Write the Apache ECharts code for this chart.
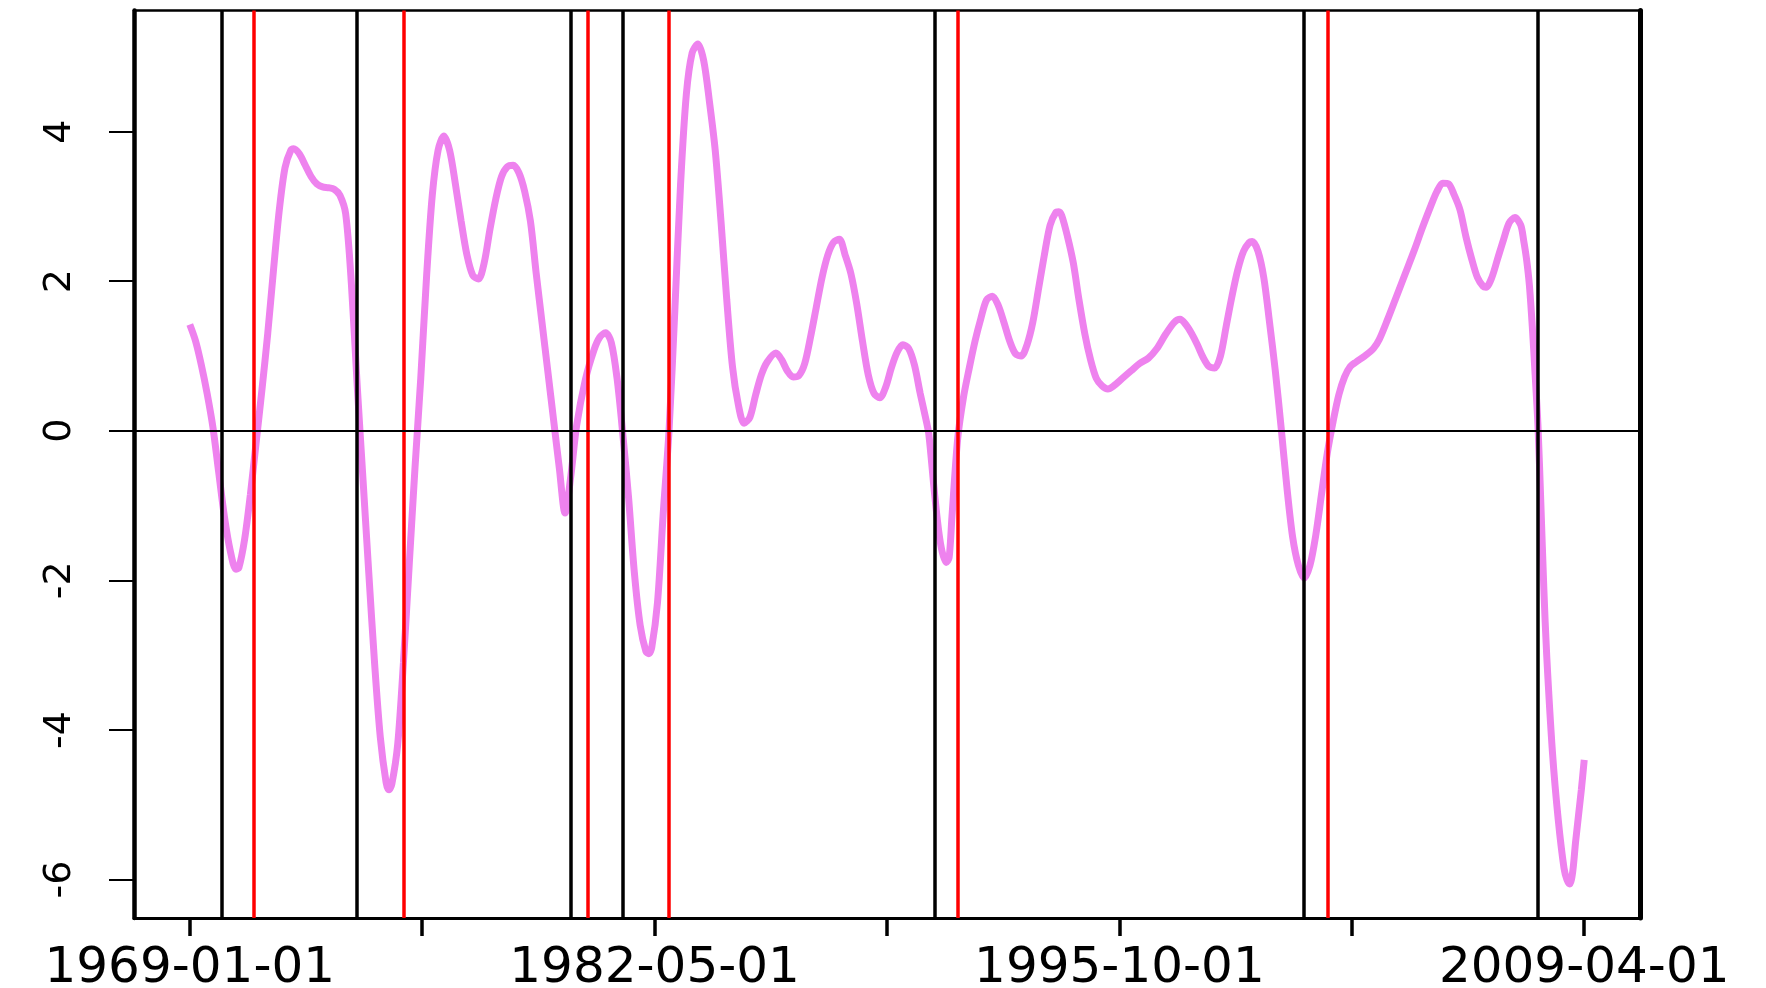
<!DOCTYPE html>
<html><head><meta charset="utf-8">
<script src="https://cdn.jsdelivr.net/npm/echarts@6/dist/echarts.min.js"></script>
<style>html,body{margin:0;padding:0;background:#fff}#c{width:1766px;height:988px}</style>
</head><body><div id="c"></div>
<script>
const obsDates = [
'1969-01','1969-03','1969-05','1969-07','1969-09','1969-11','1970-01','1970-03','1970-05','1970-06','1970-08','1970-10','1970-12',
'1971-02','1971-04','1971-06','1971-08','1971-10','1971-12','1972-01','1972-03','1972-05','1972-07','1972-09','1972-11',
'1973-01','1973-03','1973-05','1973-07','1973-09','1973-11','1974-01','1974-03','1974-05','1974-07','1974-09','1974-10','1974-11',
'1975-01','1975-03','1975-05','1975-07','1975-09','1975-11','1976-01','1976-03','1976-05','1976-07','1976-09','1976-11',
'1977-01','1977-03','1977-05','1977-07','1977-09','1977-11','1978-01','1978-03','1978-05','1978-07','1978-09','1978-11',
'1979-01','1979-03','1979-05','1979-07','1979-09','1979-11','1980-01','1980-03','1980-06','1980-09','1980-11',
'1981-01','1981-03','1981-05','1981-07','1981-09','1981-11','1982-01','1982-03','1982-04','1982-05','1982-07','1982-09','1982-11',
'1983-01','1983-03','1983-05','1983-07','1983-09','1983-11','1984-01','1984-03','1984-05','1984-07','1984-09','1984-11',
'1985-01','1985-03','1985-05','1985-07','1985-09','1985-12','1986-02','1986-04','1986-06','1986-08','1986-10','1986-12',
'1987-02','1987-04','1987-06','1987-08','1987-10','1987-12','1988-02','1988-04','1988-06','1988-08','1988-10','1988-12',
'1989-02','1989-04','1989-06','1989-08','1989-10','1989-12','1990-02','1990-04','1990-05','1990-07','1990-09','1990-11','1990-12',
'1991-01','1991-03','1991-05','1991-07','1991-09','1991-11','1992-01','1992-03','1992-05','1992-07','1992-09','1992-11',
'1993-01','1993-03','1993-05','1993-07','1993-09','1993-11','1994-01','1994-02','1994-03','1994-05','1994-07','1994-09','1994-11',
'1995-01','1995-03','1995-05','1995-07','1995-09','1995-12','1996-03','1996-06','1996-09','1996-12',
'1997-03','1997-06','1997-08','1997-10','1997-12','1998-02','1998-04','1998-06','1998-08','1998-10','1998-12',
'1999-02','1999-04','1999-06','1999-08','1999-09','1999-11','2000-01','2000-03','2000-05','2000-07','2000-09','2000-11',
'2001-01','2001-03','2001-05','2001-07','2001-09','2001-11','2002-01','2002-03','2002-05','2002-07','2002-09','2002-12',
'2003-03','2003-05','2003-08','2003-11','2004-02','2004-05','2004-08','2004-11','2005-01','2005-03','2005-05','2005-07','2005-09','2005-11',
'2006-01','2006-03','2006-05','2006-06','2006-08','2006-10','2006-12','2007-02','2007-04','2007-06','2007-07','2007-08','2007-09','2007-10','2007-11','2007-12',
'2008-01','2008-02','2008-03','2008-05','2008-07','2008-09','2008-10','2008-11','2008-12','2009-01','2009-03','2009-04'];
const obsValues = [
1.42,1.20,0.88,0.50,0.05,-0.55,-1.15,-1.60,-1.85,-1.83,-1.45,-0.85,-0.15,
0.55,1.30,2.15,2.95,3.52,3.75,3.77,3.70,3.55,3.40,3.30,3.26,
3.25,3.23,3.15,2.90,1.95,0.60,-0.65,-1.90,-3.10,-4.10,-4.70,-4.80,-4.72,
-4.20,-3.10,-1.80,-0.50,0.70,2.05,3.15,3.75,3.94,3.75,3.30,2.80,
2.35,2.08,2.03,2.25,2.70,3.10,3.40,3.53,3.55,3.45,3.20,2.80,
2.10,1.45,0.80,0.15,-0.50,-1.10,-0.60,0.07,0.68,1.08,1.25,
1.31,1.18,0.70,-0.05,-0.90,-1.90,-2.60,-2.95,-2.98,-2.90,-2.30,-1.10,0.00,
1.60,3.30,4.50,5.05,5.17,4.95,4.40,3.75,2.80,1.75,0.85,0.35,
0.10,0.18,0.48,0.75,0.92,1.04,0.95,0.80,0.72,0.74,0.90,1.25,
1.65,2.05,2.35,2.52,2.56,2.35,2.10,1.70,1.20,0.75,0.50,0.44,
0.58,0.84,1.05,1.15,1.10,0.88,0.50,0.15,-0.05,-0.85,-1.50,-1.76,-1.70,
-1.15,-0.10,0.45,0.84,1.20,1.50,1.75,1.80,1.68,1.45,1.20,1.03,
1.00,1.15,1.45,1.90,2.35,2.75,2.92,2.93,2.88,2.60,2.25,1.75,1.30,
0.95,0.70,0.60,0.56,0.60,0.70,0.80,0.90,0.97,1.10,
1.29,1.45,1.49,1.42,1.30,1.15,0.98,0.86,0.84,1.00,1.40,
1.80,2.15,2.40,2.52,2.53,2.40,2.05,1.45,0.80,0.05,-0.75,-1.42,
-1.80,-1.97,-1.80,-1.40,-0.85,-0.30,0.12,0.48,0.72,0.86,0.92,1.00,
1.10,1.22,1.50,1.80,2.10,2.40,2.72,3.02,3.20,3.31,3.30,3.15,2.95,2.60,
2.30,2.05,1.93,1.92,2.05,2.30,2.55,2.78,2.85,2.75,2.55,2.30,1.95,1.40,0.75,0.05,
-1.00,-2.10,-3.00,-4.30,-5.20,-5.85,-6.00,-6.06,-5.90,-5.50,-4.80,-4.40];
// Business-cycle reference dates (vertical lines)
const peakDates = ['1969-12','1973-11','1980-01','1981-07','1990-07','2001-03','2007-12'];
const troughDates = ['1970-11','1975-03','1980-07','1982-11','1991-03','2001-11'];
// Axis ticks (x in months since 1969-01)
const xTickMonths = [0, 80.5, 161, 241.5, 322, 402.5, 483];
const xTickLabels = ['1969-01-01', '', '1982-05-01', '', '1995-10-01', '', '2009-04-01'];
const yTickValues = [-6, -4, -2, 0, 2, 4];

function toMonth(d) { const p = d.split('-').map(Number); return (p[0] - 1969) * 12 + (p[1] - 1); }

const seriesData = obsDates.map((d, i) => [toMonth(d), obsValues[i]]);
const xs = seriesData.map(p => p[0]);
const ys = obsValues;
const xLo = Math.min(...xs), xHi = Math.max(...xs);
const yLo = Math.min(...ys), yHi = Math.max(...ys);
const xPad = (xHi - xLo) * 0.04, yPad = (yHi - yLo) * 0.04;
const xMin = xLo - xPad, xMax = xHi + xPad;
const yMin = yLo - yPad - 0.005, yMax = yHi + yPad;

const labelMonths = xTickMonths.filter((m, i) => xTickLabels[i] !== '');
function xLabelFor(v) {
  for (let i = 0; i < xTickMonths.length; i++) if (Math.abs(xTickMonths[i] - v) < 1e-6) return xTickLabels[i];
  return '';
}

const vLines = [];
peakDates.forEach(d => vLines.push({ xAxis: toMonth(d), lineStyle: { color: '#000000', width: 3.5, type: 'solid' } }));
troughDates.forEach(d => vLines.push({ xAxis: toMonth(d), lineStyle: { color: '#FF0000', width: 3.5, type: 'solid' } }));
vLines.push({ yAxis: 0, lineStyle: { color: '#000000', width: 2, type: 'solid' } });

const chart = echarts.init(document.getElementById('c'), null, { renderer: 'canvas' });
chart.setOption({
  animation: false,
  backgroundColor: '#ffffff',
  grid: { left: 134, right: 126, top: 10.5, bottom: 70, containLabel: false, outerBoundsMode: 'none' },
  xAxis: [{
    type: 'value', min: xMin, max: xMax, position: 'bottom',
    axisLine: { show: true, onZero: false, lineStyle: { color: '#000', width: 3 } },
    axisTick: { show: true, customValues: xTickMonths, length: 18, lineStyle: { color: '#000', width: 3.5 } },
    axisLabel: { show: true, customValues: labelMonths, formatter: xLabelFor, color: '#000',
      fontFamily: 'DejaVu Sans', fontSize: 50, margin: 26, hideOverlap: false },
    splitLine: { show: false }
  }, {
    type: 'value', min: xMin, max: xMax, position: 'top',
    axisLine: { show: true, onZero: false, lineStyle: { color: '#000', width: 2.5 } },
    axisTick: { show: false }, axisLabel: { show: false }, splitLine: { show: false }
  }],
  yAxis: [{
    type: 'value', min: yMin, max: yMax, position: 'left',
    axisLine: { show: true, onZero: false, lineStyle: { color: '#000', width: 4.5 } },
    axisTick: { show: true, customValues: yTickValues, length: 25, lineStyle: { color: '#000', width: 2 } },
    axisLabel: { show: true, customValues: yTickValues, rotate: 90, color: '#000',
      fontFamily: 'DejaVu Sans', fontSize: 38, margin: 55, hideOverlap: false },
    splitLine: { show: false }
  }, {
    type: 'value', min: yMin, max: yMax, position: 'right',
    axisLine: { show: true, onZero: false, lineStyle: { color: '#000', width: 5 } },
    axisTick: { show: false }, axisLabel: { show: false }, splitLine: { show: false }
  }],
  series: [{
    type: 'line', xAxisIndex: 0, yAxisIndex: 0,
    data: seriesData, smooth: 0.3, symbol: 'none', silent: true,
    lineStyle: { color: '#EE82EE', width: 7 },
    emphasis: { disabled: true },
    z: 2,
    markLine: { silent: true, symbol: ['none', 'none'], label: { show: false }, animation: false,
      emphasis: { disabled: true }, data: vLines, z: 5 }
  }]
});
</script></body></html>
